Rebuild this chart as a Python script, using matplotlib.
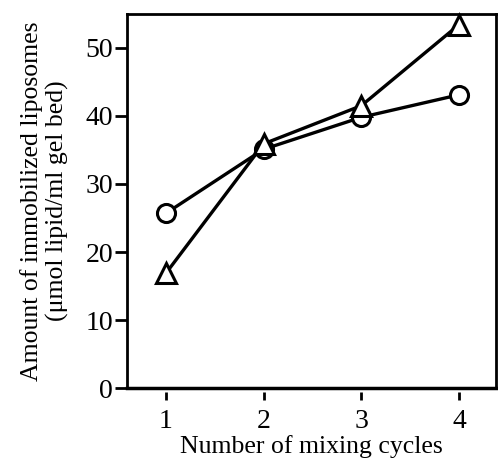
import matplotlib
matplotlib.use("Agg")
import matplotlib.pyplot as plt

cycles = [1, 2, 3, 4]
circle_vals = [25.7, 35.1, 39.8, 43.1]
triangle_vals = [16.9, 35.9, 41.5, 53.4]
xticks = [1, 2, 3, 4]
yticks = [0, 10, 20, 30, 40, 50]

plt.rcParams['font.family'] = ['Liberation Serif', 'DejaVu Serif']

fig = plt.figure(figsize=(4.98, 4.62), dpi=100)
ax = fig.add_axes([0.255, 0.160, 0.741, 0.810])

lw = 2.4
ax.plot(cycles, circle_vals, color='k', lw=lw, marker='o', ms=13,
        mfc='white', mec='k', mew=2.2, zorder=3, clip_on=False)
ax.plot(cycles, triangle_vals, color='k', lw=lw, marker='^', ms=15,
        mfc='white', mec='k', mew=2.2, zorder=3, clip_on=False)

ax.set_xlim(0.6, 4.38)
ax.set_ylim(0, 55)
ax.set_xticks(xticks)
ax.set_yticks(yticks)

for s in ['left', 'top', 'right']:
    ax.spines[s].set_linewidth(2)
ax.spines['bottom'].set_position(('outward', 3))
ax.spines['bottom'].set_visible(False)
ax.axhline(0, color='k', lw=2.5, clip_on=False, zorder=4)

ax.tick_params(axis='y', direction='out', length=9, width=2, pad=1, labelsize=20)
ax.tick_params(axis='x', direction='out', length=6, width=2, pad=6, labelsize=20)

ax.set_xlabel('Number of mixing cycles', fontsize=18.5, labelpad=1)
ax.set_ylabel('Amount of immobilized liposomes\n(μmol lipid/ml gel bed)', fontsize=18.5,
              labelpad=12, linespacing=1.15)

fig.savefig('out.png', dpi=100)
